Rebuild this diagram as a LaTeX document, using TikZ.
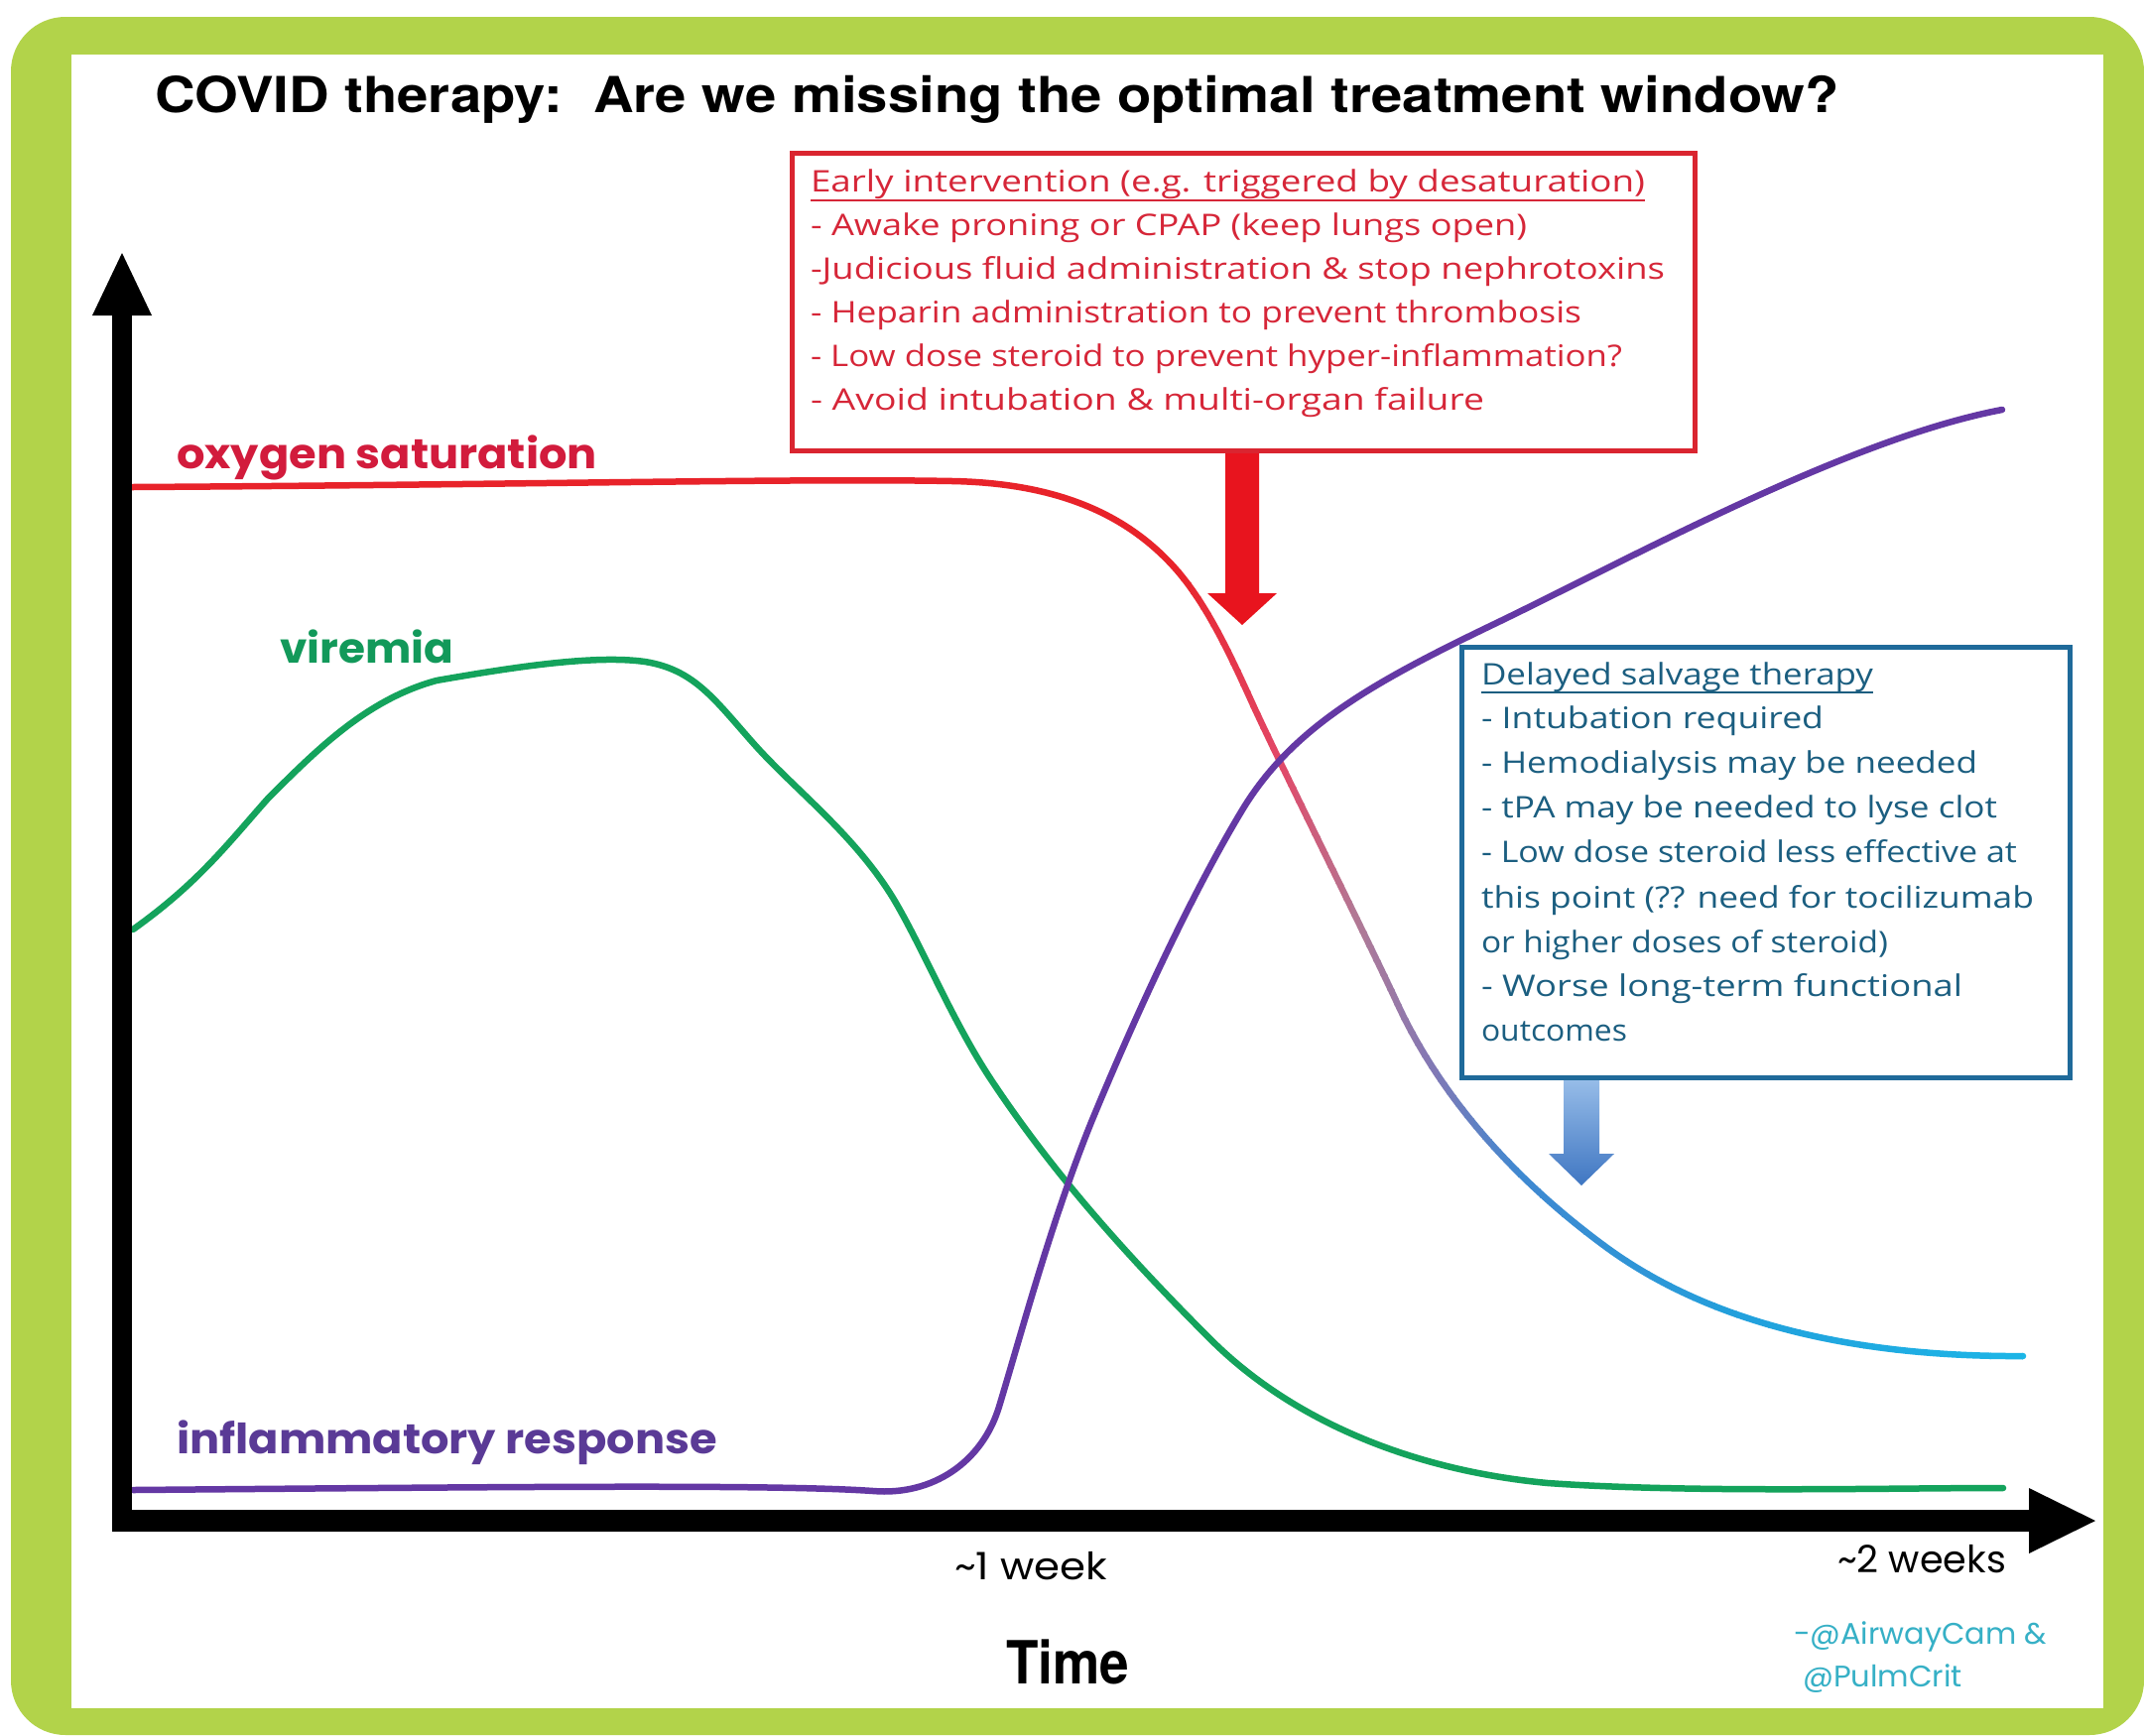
\documentclass[tikz,border=0pt]{standalone}
\usepackage{fontspec}
\usepackage{graphicx}
\setmainfont{TeX Gyre Heros}
\newfontfamily\geofont{Poppins}
\newfontfamily\handfont{Open Sans}
\newfontfamily\headfont{TeX Gyre Heros}
\usetikzlibrary{calc}

\definecolor{framegreen}{HTML}{B2D34A}
\definecolor{oxlabel}{HTML}{D21B3C}
\definecolor{virgreen}{HTML}{14A35C}
\definecolor{virlabel}{HTML}{12995A}
\definecolor{inflpurple}{HTML}{6438A4}
\definecolor{infllabel}{HTML}{5A3A96}
\definecolor{boxred}{HTML}{DA2530}
\definecolor{textred}{HTML}{D62638}
\definecolor{boxblue}{HTML}{1F6A9A}
\definecolor{textblue}{HTML}{1B5E80}
\definecolor{authorcyan}{HTML}{36B0C6}
\definecolor{arrowred}{HTML}{E8141E}
\definecolor{arrowbluetop}{HTML}{96BCE8}
\definecolor{arrowbluebot}{HTML}{3F76C2}
\definecolor{g0}{HTML}{E8232A}
\definecolor{g1}{HTML}{E24868}
\definecolor{g2}{HTML}{B07A96}
\definecolor{g3}{HTML}{8478B4}
\definecolor{g4}{HTML}{4088D0}
\definecolor{g5}{HTML}{22A0DC}
\definecolor{g6}{HTML}{1CB8E8}

\newsavebox\fitbox
\newlength\fitlen
\newcommand\fitto[2]{\sbox\fitbox{#2}\setlength\fitlen{\wd\fitbox}\pgfmathsetmacro\fitratio{#1/\fitlen}\scalebox{\fitratio}[1]{\usebox\fitbox}}

\newcommand\oxypath{(133,491) .. controls (500,489) and (800,482) .. (960,485)
  .. controls (1060,487) and (1130,515) .. (1180,568)
  .. controls (1215,605) and (1240,660) .. (1265,715)
  .. controls (1300,790) and (1380,950) .. (1410,1015)
  .. controls (1450,1100) and (1520,1185) .. (1620,1258)
  .. controls (1730,1338) and (1880,1368) .. (2039,1367)}
\newcommand\virpath{(134,937) .. controls (200,890) and (230,850) .. (270,805)
  .. controls (320,755) and (370,705) .. (440,686)
  .. controls (520,672) and (600,660) .. (650,667)
  .. controls (700,675) and (720,705) .. (760,750)
  .. controls (800,795) and (860,840) .. (900,905)
  .. controls (930,955) and (960,1030) .. (1000,1090)
  .. controls (1060,1180) and (1130,1260) .. (1220,1350)
  .. controls (1300,1430) and (1420,1482) .. (1560,1495)
  .. controls (1700,1505) and (1900,1500) .. (2019,1500)}
\newcommand\inflpath{(134,1502) .. controls (500,1499) and (780,1496) .. (880,1503)
  .. controls (940,1508) and (990,1474) .. (1007,1418)
  .. controls (1030,1342) and (1060,1230) .. (1100,1131)
  .. controls (1150,1010) and (1205,895) .. (1250,820)
  .. controls (1300,735) and (1380,690) .. (1500,632)
  .. controls (1640,565) and (1860,443) .. (2018,413)}

\begin{document}
\begin{tikzpicture}[x=1pt,y=-1pt,
  lbl/.style={inner sep=0pt, outer sep=0pt, anchor=base west},
  curve/.style={line width=6.5pt, line cap=round, line join=round},
  redtxt/.style={lbl, text=textred, font=\handfont\fontsize{30}{36}\selectfont},
  bluetxt/.style={lbl, text=textblue, font=\handfont\fontsize{30}{36}\selectfont},
  serieslbl/.style={lbl, font=\geofont\bfseries\fontsize{42}{48}\selectfont},
  ticklbl/.style={lbl, font=\geofont\fontsize{38}{44}\selectfont},
  authorlbl/.style={lbl, text=authorcyan, font=\geofont\fontsize{30}{36}\selectfont},
  infobox/.style={line width=5pt, fill=white, inner sep=0pt, anchor=north west}]

\useasboundingbox (0,0) rectangle (2161,1749);
\fill[white] (0,0) rectangle (2161,1749);
\fill[framegreen, rounded corners=55pt] (11,17) rectangle (2161,1749);
\fill[white] (72,55) rectangle (2120,1722);

% title
\node[lbl, font=\headfont\bfseries\fontsize{50}{56}\selectfont] (title) at (156,113)
  {\fitto{1698}{COVID therapy:\ \ Are we missing the optimal treatment window?}};

% curves
\draw[curve, virgreen] \virpath;
\begin{scope}
  \clip (0,150) rectangle (1190.8,1650);
  \draw[curve, g0] \oxypath;
\end{scope}
\foreach \xa/\xb/\ca/\cb in {1190/1290/g0/g1, 1290/1370/g1/g2, 1370/1440/g2/g3, 1440/1530/g3/g4, 1530/1750/g4/g5, 1750/2070/g5/g6}{
  \foreach \k in {0,...,9}{
    \pgfmathsetmacro\xl{\xa+(\xb-\xa)*\k/10}
    \pgfmathsetmacro\xr{\xa+(\xb-\xa)*(\k+1)/10+0.8}
    \pgfmathtruncatemacro\pc{95-10*\k}
    \colorlet{slicecol}{\ca!\pc!\cb}
    \begin{scope}
      \clip (\xl,150) rectangle (\xr,1650);
      \draw[curve, slicecol] \oxypath;
    \end{scope}
  }
}
\draw[curve, inflpurple] \inflpath;

% axes
\fill[black] (113,300) rectangle (133,1544);
\fill[black] (123,255) -- (153,318) -- (93,318) -- cycle;
\fill[black] (113,1522) rectangle (2050,1544);
\fill[black] (2112,1533) -- (2045,1566) -- (2045,1500) -- cycle;

% series labels
\node[serieslbl, text=oxlabel] (oxy) at (178,472) {\fitto{424}{oxygen saturation}};
\node[serieslbl, text=virlabel] (vir) at (282,668) {\fitto{175}{viremia}};
\node[serieslbl, text=infllabel] (infl) at (178,1465) {\fitto{545}{inflammatory response}};

% axis labels
\node[ticklbl] (wk1) at (962,1592) {\fitto{154}{\textasciitilde 1 week}};
\node[ticklbl] (wk2) at (1852,1585) {\fitto{170}{\textasciitilde 2 weeks}};
\node[lbl, font=\headfont\bfseries\fontsize{60}{66}\selectfont] (time) at (1014,1697) {\fitto{124}{Time}};
\node[authorlbl] (auth1) at (1808,1657) {\fitto{255}{-@AirwayCam \&}};
\node[authorlbl] (auth2) at (1817,1700) {\fitto{161}{@PulmCrit}};

% early intervention box
\node[infobox, draw=boxred, minimum width=910pt, minimum height=300pt] (early) at (796,152) {};
\node[redtxt] (r1) at (817,193) {\fitto{841}{Early intervention (e.g. triggered by desaturation)}};
\draw[textred, line width=2.5pt] ([yshift=-9pt]r1.base west) -- ([yshift=-9pt]r1.base east);
\node[redtxt] (r2) at (817,237) {\fitto{722}{- Awake proning or CPAP (keep lungs open)}};
\node[redtxt] (r3) at (817,281) {\fitto{861}{-Judicious fluid administration \& stop nephrotoxins}};
\node[redtxt] (r4) at (817,325) {\fitto{777}{- Heparin administration to prevent thrombosis}};
\node[redtxt] (r5) at (817,369) {\fitto{818}{- Low dose steroid to prevent hyper-inflammation?}};
\node[redtxt] (r6) at (817,413) {\fitto{679}{- Avoid intubation \& multi-organ failure}};

% red arrow
\coordinate (rtip) at (1252,630);
\fill[arrowred] ([xshift=-17pt]early.south -| rtip) -- ([xshift=-17pt]rtip |- 0,598) -- ([xshift=-35pt]rtip |- 0,598)
  -- (rtip) -- ([xshift=35pt]rtip |- 0,598) -- ([xshift=17pt]rtip |- 0,598) -- ([xshift=17pt]early.south -| rtip) -- cycle;

% delayed salvage box
\node[infobox, draw=boxblue, minimum width=613pt, minimum height=434pt] (late) at (1471,650) {};
\node[bluetxt] (b1) at (1493,690) {\fitto{395}{Delayed salvage therapy}};
\draw[textblue, line width=2.5pt] ([yshift=-8pt]b1.base west) -- ([yshift=-8pt]b1.base east);
\node[bluetxt] (b2) at (1493,734) {\fitto{345}{- Intubation required}};
\node[bluetxt] (b3) at (1493,779) {\fitto{500}{- Hemodialysis may be needed}};
\node[bluetxt] (b4) at (1493,824) {\fitto{520}{- tPA may be needed to lyse clot}};
\node[bluetxt] (b5) at (1493,869) {\fitto{540}{- Low dose steroid less effective at}};
\node[bluetxt] (b6) at (1493,915) {\fitto{557}{this point (?? need for tocilizumab}};
\node[bluetxt] (b7) at (1493,960) {\fitto{410}{or higher doses of steroid)}};
\node[bluetxt] (b8) at (1493,1004) {\fitto{485}{- Worse long-term functional}};
\node[bluetxt] (b9) at (1493,1049) {\fitto{147}{outcomes}};

% blue arrow
\coordinate (btip) at (1594,1195);
\shade[top color=arrowbluetop, bottom color=arrowbluebot]
  ([xshift=-18pt]late.south -| btip) -- ([xshift=-18pt]btip |- 0,1163) -- ([xshift=-33pt]btip |- 0,1163)
  -- (btip) -- ([xshift=33pt]btip |- 0,1163) -- ([xshift=18pt]btip |- 0,1163) -- ([xshift=18pt]late.south -| btip) -- cycle;

\end{tikzpicture}
\end{document}
